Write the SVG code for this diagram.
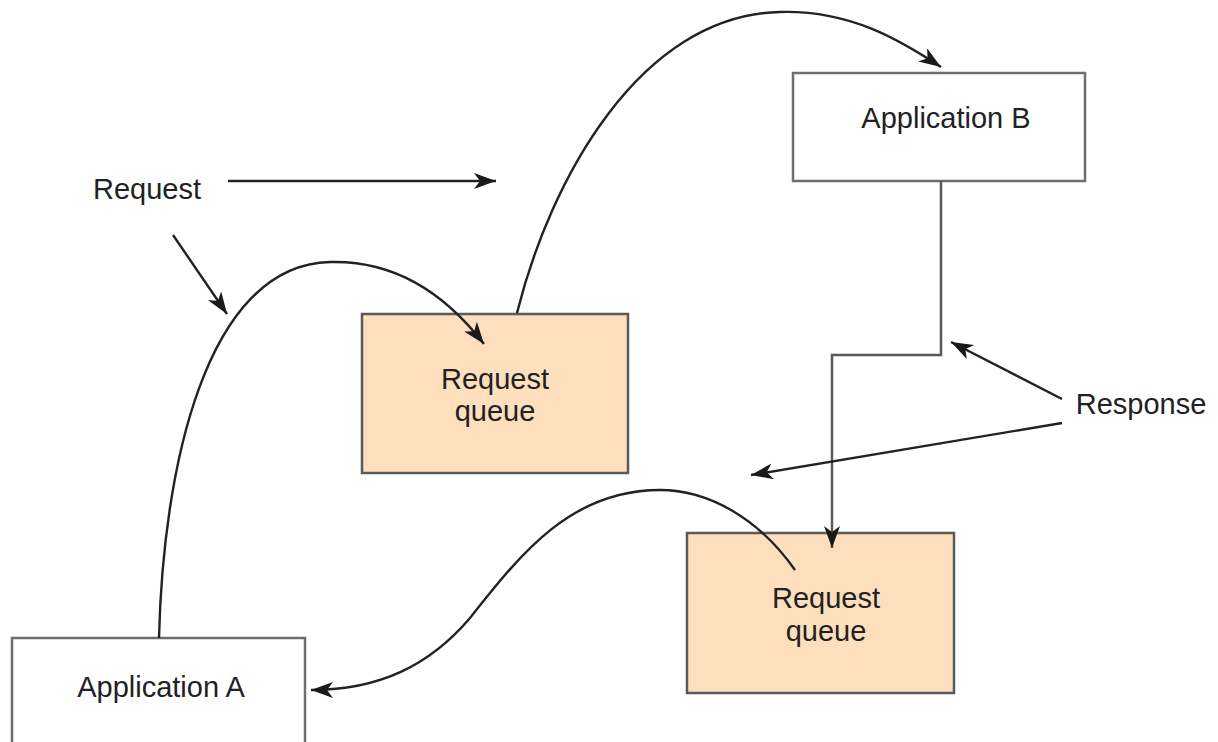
<svg xmlns="http://www.w3.org/2000/svg" width="1218" height="742" viewBox="0 0 1218 742">
  <style>
    .box { fill: #ffffff; stroke: #6e6e6e; stroke-width: 2.5; }
    .queue { fill: #fddfbd; stroke: #5a5a5a; stroke-width: 2.5; }
    .lbl { font-family: "Liberation Sans", Arial, sans-serif; font-size: 29px; fill: #222222; text-anchor: middle; }
    .conn { fill: none; stroke: #222222; stroke-width: 2.4; marker-end: url(#arrow); }
    .elbow { fill: none; stroke: #5a5a5a; stroke-width: 2.5; marker-end: url(#arrow); }
  </style>
  <defs>
    <marker id="arrow" markerUnits="userSpaceOnUse" markerWidth="24" markerHeight="18" refX="22" refY="8" orient="auto">
      <path d="M0,0 L22,8 L0,16 L6,8 z" fill="#1a1a1a"/>
    </marker>
  </defs>
  <rect width="1218" height="742" fill="#ffffff"/>

  <g id="application-a">
    <rect class="box" x="12" y="638" width="293" height="130"/>
    <text class="lbl" x="161" y="697">Application A</text>
  </g>

  <g id="request-queue-1">
    <rect class="queue" x="362" y="314" width="266" height="159"/>
    <text class="lbl" x="495" y="389">Request</text>
    <text class="lbl" x="495" y="421">queue</text>
  </g>

  <g id="request-queue-2">
    <rect class="queue" x="687" y="533" width="267" height="160"/>
    <text class="lbl" x="826" y="608">Request</text>
    <text class="lbl" x="826" y="641">queue</text>
  </g>

  <g id="application-b">
    <rect class="box" x="793" y="73" width="292" height="108"/>
    <text class="lbl" x="946" y="128">Application B</text>
  </g>

  <g id="request-label">
    <text class="lbl" x="147" y="199">Request</text>
  </g>

  <g id="response-label">
    <text class="lbl" x="1141" y="414">Response</text>
  </g>

  <g id="connectors">
    <!-- Application A to first queue -->
    <path class="conn" d="M159,638 C163,470 205,265 330,262 C400,260 450,300 484,344"/>
    <!-- first queue to Application B -->
    <path class="conn" d="M517,313 C550,180 640,15 780,12 C850,10 900,40 941,67"/>
    <!-- Application B down to second queue -->
    <path class="elbow" d="M941,181 L941,355 L832,355 L832,548"/>
    <!-- second queue back to Application A -->
    <path class="conn" d="M795,570 C760,520 710,490 660,490 C570,490 520,555 470,618 C430,665 380,690 311,690"/>
    <!-- label pointers -->
    <path class="conn" d="M228,181 L496,181"/>
    <path class="conn" d="M173,235 L227,314"/>
    <path class="conn" d="M1062,399 L951,342"/>
    <path class="conn" d="M1062,423 L751,475"/>
  </g>
</svg>
